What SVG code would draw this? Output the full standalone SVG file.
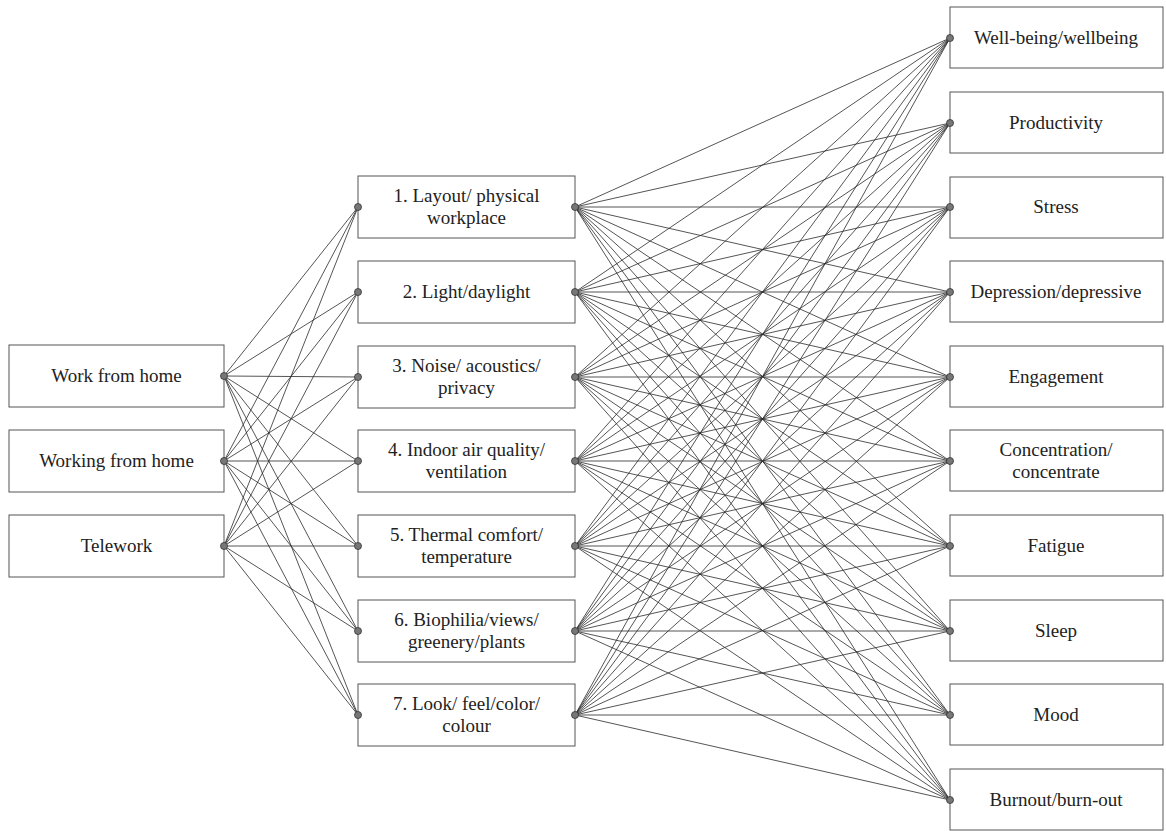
<svg xmlns="http://www.w3.org/2000/svg" width="1166" height="831" viewBox="0 0 1166 831">
<style>
.box{fill:#fff;stroke:#555;stroke-width:1}
.t{font-family:"Liberation Serif","Times New Roman",serif;font-size:19px;fill:#222;text-anchor:middle}
.c line{stroke:#2a2a2a;stroke-width:0.8}
.p{fill:#777;stroke:#333;stroke-width:0.8}
</style>
<rect width="1166" height="831" fill="#fff"/>
<g class="c" id="connectors">
<line x1="224" y1="376" x2="358" y2="207"/><line x1="224" y1="376" x2="358" y2="292"/><line x1="224" y1="376" x2="358" y2="377"/><line x1="224" y1="376" x2="358" y2="461"/><line x1="224" y1="376" x2="358" y2="546"/><line x1="224" y1="376" x2="358" y2="631"/><line x1="224" y1="376" x2="358" y2="715"/>
<line x1="224" y1="461" x2="358" y2="207"/><line x1="224" y1="461" x2="358" y2="292"/><line x1="224" y1="461" x2="358" y2="377"/><line x1="224" y1="461" x2="358" y2="461"/><line x1="224" y1="461" x2="358" y2="546"/><line x1="224" y1="461" x2="358" y2="631"/><line x1="224" y1="461" x2="358" y2="715"/>
<line x1="224" y1="546" x2="358" y2="207"/><line x1="224" y1="546" x2="358" y2="292"/><line x1="224" y1="546" x2="358" y2="377"/><line x1="224" y1="546" x2="358" y2="461"/><line x1="224" y1="546" x2="358" y2="546"/><line x1="224" y1="546" x2="358" y2="631"/><line x1="224" y1="546" x2="358" y2="715"/>
<line x1="575" y1="207" x2="950" y2="38"/><line x1="575" y1="207" x2="950" y2="123"/><line x1="575" y1="207" x2="950" y2="207"/><line x1="575" y1="207" x2="950" y2="292"/><line x1="575" y1="207" x2="950" y2="377"/><line x1="575" y1="207" x2="950" y2="461"/><line x1="575" y1="207" x2="950" y2="546"/><line x1="575" y1="207" x2="950" y2="631"/><line x1="575" y1="207" x2="950" y2="715"/><line x1="575" y1="207" x2="950" y2="800"/>
<line x1="575" y1="292" x2="950" y2="38"/><line x1="575" y1="292" x2="950" y2="123"/><line x1="575" y1="292" x2="950" y2="207"/><line x1="575" y1="292" x2="950" y2="292"/><line x1="575" y1="292" x2="950" y2="377"/><line x1="575" y1="292" x2="950" y2="461"/><line x1="575" y1="292" x2="950" y2="546"/><line x1="575" y1="292" x2="950" y2="631"/><line x1="575" y1="292" x2="950" y2="715"/><line x1="575" y1="292" x2="950" y2="800"/>
<line x1="575" y1="377" x2="950" y2="38"/><line x1="575" y1="377" x2="950" y2="123"/><line x1="575" y1="377" x2="950" y2="207"/><line x1="575" y1="377" x2="950" y2="292"/><line x1="575" y1="377" x2="950" y2="377"/><line x1="575" y1="377" x2="950" y2="461"/><line x1="575" y1="377" x2="950" y2="546"/><line x1="575" y1="377" x2="950" y2="631"/><line x1="575" y1="377" x2="950" y2="715"/><line x1="575" y1="377" x2="950" y2="800"/>
<line x1="575" y1="461" x2="950" y2="38"/><line x1="575" y1="461" x2="950" y2="123"/><line x1="575" y1="461" x2="950" y2="207"/><line x1="575" y1="461" x2="950" y2="292"/><line x1="575" y1="461" x2="950" y2="377"/><line x1="575" y1="461" x2="950" y2="461"/><line x1="575" y1="461" x2="950" y2="546"/><line x1="575" y1="461" x2="950" y2="631"/><line x1="575" y1="461" x2="950" y2="715"/><line x1="575" y1="461" x2="950" y2="800"/>
<line x1="575" y1="546" x2="950" y2="38"/><line x1="575" y1="546" x2="950" y2="123"/><line x1="575" y1="546" x2="950" y2="207"/><line x1="575" y1="546" x2="950" y2="292"/><line x1="575" y1="546" x2="950" y2="377"/><line x1="575" y1="546" x2="950" y2="461"/><line x1="575" y1="546" x2="950" y2="546"/><line x1="575" y1="546" x2="950" y2="631"/><line x1="575" y1="546" x2="950" y2="715"/><line x1="575" y1="546" x2="950" y2="800"/>
<line x1="575" y1="631" x2="950" y2="38"/><line x1="575" y1="631" x2="950" y2="123"/><line x1="575" y1="631" x2="950" y2="207"/><line x1="575" y1="631" x2="950" y2="292"/><line x1="575" y1="631" x2="950" y2="377"/><line x1="575" y1="631" x2="950" y2="461"/><line x1="575" y1="631" x2="950" y2="546"/><line x1="575" y1="631" x2="950" y2="631"/><line x1="575" y1="631" x2="950" y2="715"/><line x1="575" y1="631" x2="950" y2="800"/>
<line x1="575" y1="715" x2="950" y2="38"/><line x1="575" y1="715" x2="950" y2="123"/><line x1="575" y1="715" x2="950" y2="207"/><line x1="575" y1="715" x2="950" y2="292"/><line x1="575" y1="715" x2="950" y2="377"/><line x1="575" y1="715" x2="950" y2="461"/><line x1="575" y1="715" x2="950" y2="546"/><line x1="575" y1="715" x2="950" y2="631"/><line x1="575" y1="715" x2="950" y2="715"/><line x1="575" y1="715" x2="950" y2="800"/>
</g>
<g font-family="Liberation Serif, serif">
<g id="n-wfh"><rect class="box" x="9" y="345" width="215" height="62"/><text class="t" x="116.5" y="382">Work from home</text><circle class="p" cx="224" cy="376" r="3.5"/></g>
<g id="n-workingfh"><rect class="box" x="9" y="430" width="215" height="62"/><text class="t" x="116.5" y="467">Working from home</text><circle class="p" cx="224" cy="461" r="3.5"/></g>
<g id="n-telework"><rect class="box" x="9" y="515" width="215" height="62"/><text class="t" x="116.5" y="552">Telework</text><circle class="p" cx="224" cy="546" r="3.5"/></g>
<g id="n-m1"><rect class="box" x="358" y="176" width="217" height="62"/><text class="t" x="466.5" y="202">1. Layout/ physical</text><text class="t" x="466.5" y="224">workplace</text><circle class="p" cx="358" cy="207" r="3.5"/><circle class="p" cx="575" cy="207" r="3.5"/></g>
<g id="n-m2"><rect class="box" x="358" y="261" width="217" height="62"/><text class="t" x="466.5" y="298">2. Light/daylight</text><circle class="p" cx="358" cy="292" r="3.5"/><circle class="p" cx="575" cy="292" r="3.5"/></g>
<g id="n-m3"><rect class="box" x="358" y="346" width="217" height="62"/><text class="t" x="466.5" y="372">3. Noise/ acoustics/</text><text class="t" x="466.5" y="394">privacy</text><circle class="p" cx="358" cy="377" r="3.5"/><circle class="p" cx="575" cy="377" r="3.5"/></g>
<g id="n-m4"><rect class="box" x="358" y="430" width="217" height="62"/><text class="t" x="466.5" y="456">4. Indoor air quality/</text><text class="t" x="466.5" y="478">ventilation</text><circle class="p" cx="358" cy="461" r="3.5"/><circle class="p" cx="575" cy="461" r="3.5"/></g>
<g id="n-m5"><rect class="box" x="358" y="515" width="217" height="62"/><text class="t" x="466.5" y="541">5. Thermal comfort/</text><text class="t" x="466.5" y="563">temperature</text><circle class="p" cx="358" cy="546" r="3.5"/><circle class="p" cx="575" cy="546" r="3.5"/></g>
<g id="n-m6"><rect class="box" x="358" y="600" width="217" height="62"/><text class="t" x="466.5" y="626">6. Biophilia/views/</text><text class="t" x="466.5" y="648">greenery/plants</text><circle class="p" cx="358" cy="631" r="3.5"/><circle class="p" cx="575" cy="631" r="3.5"/></g>
<g id="n-m7"><rect class="box" x="358" y="684" width="217" height="62"/><text class="t" x="466.5" y="710">7. Look/ feel/color/</text><text class="t" x="466.5" y="732">colour</text><circle class="p" cx="358" cy="715" r="3.5"/><circle class="p" cx="575" cy="715" r="3.5"/></g>
<g id="n-r1"><rect class="box" x="950" y="7" width="213" height="61"/><text class="t" x="1056" y="44">Well-being/wellbeing</text><circle class="p" cx="950" cy="38" r="3.5"/></g>
<g id="n-r2"><rect class="box" x="950" y="92" width="213" height="61"/><text class="t" x="1056" y="129">Productivity</text><circle class="p" cx="950" cy="123" r="3.5"/></g>
<g id="n-r3"><rect class="box" x="950" y="177" width="213" height="61"/><text class="t" x="1056" y="213">Stress</text><circle class="p" cx="950" cy="207" r="3.5"/></g>
<g id="n-r4"><rect class="box" x="950" y="261" width="213" height="61"/><text class="t" x="1056" y="298">Depression/depressive</text><circle class="p" cx="950" cy="292" r="3.5"/></g>
<g id="n-r5"><rect class="box" x="950" y="346" width="213" height="61"/><text class="t" x="1056" y="383">Engagement</text><circle class="p" cx="950" cy="377" r="3.5"/></g>
<g id="n-r6"><rect class="box" x="950" y="430" width="213" height="61"/><text class="t" x="1056" y="456">Concentration/</text><text class="t" x="1056" y="478">concentrate</text><circle class="p" cx="950" cy="461" r="3.5"/></g>
<g id="n-r7"><rect class="box" x="950" y="515" width="213" height="61"/><text class="t" x="1056" y="552">Fatigue</text><circle class="p" cx="950" cy="546" r="3.5"/></g>
<g id="n-r8"><rect class="box" x="950" y="600" width="213" height="61"/><text class="t" x="1056" y="637">Sleep</text><circle class="p" cx="950" cy="631" r="3.5"/></g>
<g id="n-r9"><rect class="box" x="950" y="684" width="213" height="61"/><text class="t" x="1056" y="721">Mood</text><circle class="p" cx="950" cy="715" r="3.5"/></g>
<g id="n-r10"><rect class="box" x="950" y="769" width="213" height="61"/><text class="t" x="1056" y="806">Burnout/burn-out</text><circle class="p" cx="950" cy="800" r="3.5"/></g>
</g>
</svg>
